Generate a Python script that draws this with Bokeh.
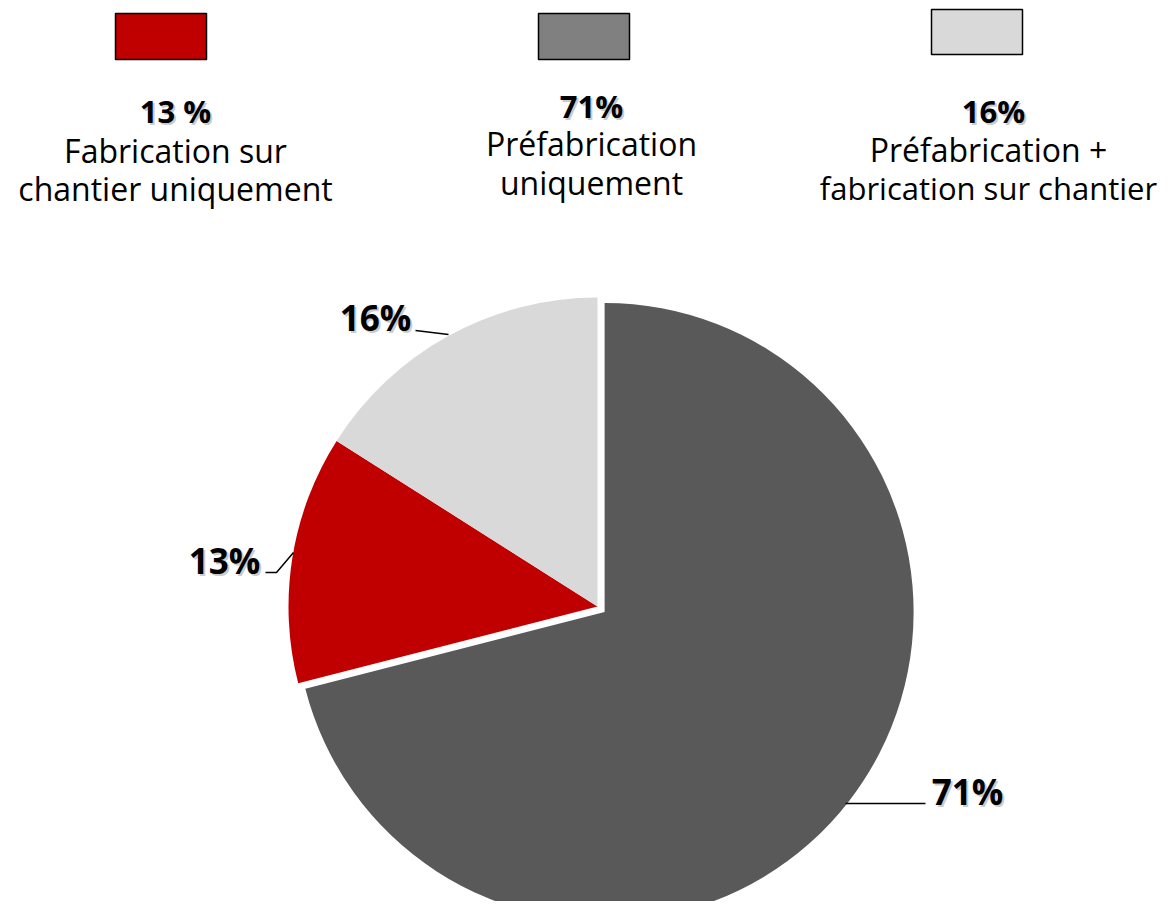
import math
from bokeh.plotting import figure
from bokeh.models import Range1d
from bokeh.core.properties import value
from bokeh.embed import file_html
from bokeh.resources import INLINE

# ---------------- data ----------------
categories = ["Fabrication sur chantier uniquement",
              "Préfabrication uniquement",
              "Préfabrication + fabrication sur chantier"]
legend_lines = [["Fabrication sur", "chantier uniquement"],
                ["Préfabrication", "uniquement"],
                ["Préfabrication +", "fabrication sur chantier"]]
legend_pct = ["13 %", "71%", "16%"]
values = [13, 71, 16]
pie_labels = ["13%", "71%", "16%"]
pie_colors = ["#C00000", "#595959", "#D9D9D9"]
legend_colors = ["#C00000", "#808080", "#D9D9D9"]
pie_order = [1, 0, 2]          # clockwise from 12 o'clock
explode = [0, 9, 0]

# ---------------- layout (screen pixels, y downward) ----------------
W, H = 1160, 901
CX, CY, R = 597, 606, 309
legend_boxes = [(115, 206, 13, 59), (538, 629, 13, 59), (931, 1022, 9, 54)]
legend_cx = [175, 591, 988]
legend_pct_y = [110, 105, 110]
legend_line_y = [[150, 188], [143, 182], [149, 187]]
legend_line_size = [["32px", "32px"], ["32px", "32px"], ["32px", "31px"]]
label_pos = [(224, 560), (967, 791), (375, 317)]
leaders = [
    ([265, 276, 293], [572, 572, 552]),
    ([845, 925], [803, 803]),
    ([415, 448], [330, 334]),
]

FONT = "Open Sans"

p = figure(width=W, height=H, output_backend="svg", toolbar_location=None,
           x_range=Range1d(0, W), y_range=Range1d(-H, 0),
           min_border=0, min_border_left=0, min_border_right=0,
           min_border_top=0, min_border_bottom=0)
p.axis.visible = False
p.grid.visible = False
p.outline_line_color = None
p.background_fill_color = "white"
p.border_fill_color = "white"

def Y(y):
    return -y

# ---------------- pie ----------------
total = float(sum(values))
start = math.pi / 2
for idx in pie_order:
    span = values[idx] / total * 2 * math.pi
    end = start - span
    mid = (start + end) / 2
    ox = explode[idx] * math.cos(mid)
    oy = explode[idx] * math.sin(mid)
    p.wedge(x=[CX + ox], y=[Y(CY) + oy], radius=R,
            start_angle=[end], end_angle=[start], direction="anticlock",
            fill_color=pie_colors[idx], line_color=None)
    start = end

# leader lines
for xs, ys in leaders:
    p.line(xs, [Y(v) for v in ys], line_color="black", line_width=1.5)

# pie labels with soft shadow
for i, (lx, ly) in enumerate(label_pos):
    p.text(x=[lx + 2], y=[Y(ly) - 2], text=[pie_labels[i]],
           text_font=value(FONT), text_font_style="bold",
           text_font_size="35px", text_align="center", text_baseline="middle",
           text_color="#8c8c8c", text_alpha=0.45)
    p.text(x=[lx], y=[Y(ly)], text=[pie_labels[i]],
           text_font=value(FONT), text_font_style="bold",
           text_font_size="35px", text_align="center", text_baseline="middle",
           text_color="black")

# ---------------- legend ----------------
for i in range(3):
    l, r, t, b = legend_boxes[i]
    p.quad(left=[l], right=[r], top=[Y(t)], bottom=[Y(b)],
           fill_color=legend_colors[i], line_color="black", line_width=1.5)
    cx = legend_cx[i]
    pcx = [175, 591, 993][i]
    p.text(x=[pcx + 2], y=[Y(legend_pct_y[i]) - 2], text=[legend_pct[i]],
           text_font=value(FONT), text_font_style="bold",
           text_font_size="31px", text_align="center", text_baseline="middle",
           text_color="#8c8c8c", text_alpha=0.45)
    p.text(x=[pcx], y=[Y(legend_pct_y[i])], text=[legend_pct[i]],
           text_font=value(FONT), text_font_style="bold",
           text_font_size="31px", text_align="center", text_baseline="middle",
           text_color="black")
    for line, ly, fs in zip(legend_lines[i], legend_line_y[i], legend_line_size[i]):
        p.text(x=[cx], y=[Y(ly)], text=[line],
               text_font=value(FONT), text_font_size=fs,
               text_align="center", text_baseline="middle",
               text_color="black")

open("out.html", "w").write(file_html(p, INLINE))
